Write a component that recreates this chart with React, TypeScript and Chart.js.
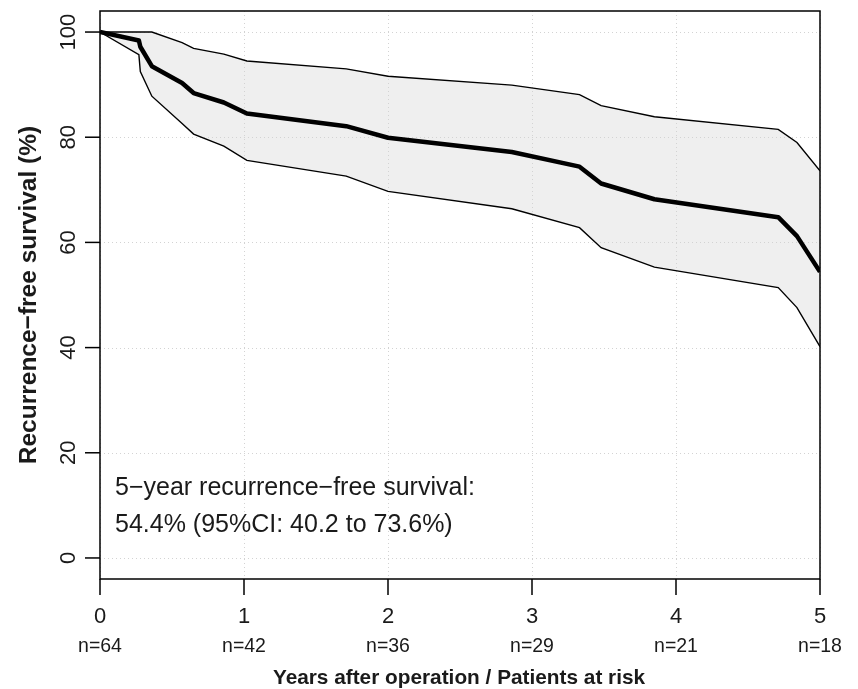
import React, { useEffect, useRef } from "react";
import { Chart, registerables } from "chart.js";

Chart.register(...registerables);

// Years after operation (event times where the curves change slope)
const times = [0, 0.27, 0.28, 0.36, 0.57, 0.65, 0.86, 1.02, 1.71, 2.0, 2.86, 3.33, 3.48, 3.85, 4.71, 4.84, 5.0];
// Recurrence-free survival (%)
const survival = [100, 98.4, 97.2, 93.5, 90.3, 88.4, 86.6, 84.5, 82.1, 79.9, 77.2, 74.4, 71.2, 68.2, 64.8, 61.2, 54.4];
// 95% CI upper bound (%)
const upperCI = [100, 100, 100, 100, 98.0, 96.9, 95.8, 94.5, 93.0, 91.6, 89.9, 88.1, 86.0, 83.9, 81.5, 79.0, 73.6];
// 95% CI lower bound (%)
const lowerCI = [100, 95.7, 92.5, 87.8, 82.6, 80.6, 78.3, 75.6, 72.6, 69.7, 66.4, 62.8, 59.0, 55.3, 51.4, 47.6, 40.2];

const xTicks = [0, 1, 2, 3, 4, 5];
const yTicks = [0, 20, 40, 60, 80, 100];
const atRisk = ["n=64", "n=42", "n=36", "n=29", "n=21", "n=18"];

const xTitle = "Years after operation / Patients at risk";
const yTitle = "Recurrence\u2212free survival (%)";
const noteLines = [
  "5\u2212year recurrence\u2212free survival:",
  "54.4% (95%CI: 40.2 to 73.6%)",
];

const FONT = '"Liberation Sans", Arial, Helvetica, sans-serif';

const toPts = (ys: number[]) => times.map((t, i) => ({ x: t, y: ys[i] }));

export default function App() {
  const ref = useRef<HTMLCanvasElement | null>(null);

  useEffect(() => {
    if (!ref.current) return;

    const rPlot = {
      id: "rStyle",
      beforeDatasetsDraw(chart: any) {
        const { ctx, chartArea: a, scales } = chart;
        const xs = scales.x;
        const ys = scales.y;
        ctx.save();
        ctx.strokeStyle = "#d3d3d3";
        ctx.lineWidth = 1;
        ctx.setLineDash([1, 3]);
        for (const v of xTicks) {
          const px = Math.round(xs.getPixelForValue(v)) + 0.5;
          ctx.beginPath();
          ctx.moveTo(px, a.top);
          ctx.lineTo(px, a.bottom);
          ctx.stroke();
        }
        for (const v of yTicks) {
          const py = Math.round(ys.getPixelForValue(v)) + 0.5;
          ctx.beginPath();
          ctx.moveTo(a.left, py);
          ctx.lineTo(a.right, py);
          ctx.stroke();
        }
        ctx.restore();
      },
      afterDraw(chart: any) {
        const { ctx, chartArea: a, scales } = chart;
        const xs = scales.x;
        const ys = scales.y;
        ctx.save();
        ctx.setLineDash([]);
        ctx.strokeStyle = "#000";
        ctx.lineWidth = 1.5;
        ctx.strokeRect(a.left, a.top, a.right - a.left, a.bottom - a.top);

        ctx.fillStyle = "#1a1a1a";
        // y ticks + labels
        ctx.font = `22px ${FONT}`;
        for (const v of yTicks) {
          const py = ys.getPixelForValue(v);
          ctx.beginPath();
          ctx.moveTo(a.left - 15, py);
          ctx.lineTo(a.left, py);
          ctx.stroke();
          ctx.save();
          ctx.translate(a.left - 25, py);
          ctx.rotate(-Math.PI / 2);
          ctx.textAlign = "center";
          ctx.textBaseline = "alphabetic";
          ctx.fillText(String(v), 0, 0);
          ctx.restore();
        }
        // x ticks + labels + at risk
        xTicks.forEach((v, i) => {
          const px = xs.getPixelForValue(v);
          ctx.beginPath();
          ctx.moveTo(px, a.bottom);
          ctx.lineTo(px, a.bottom + 16);
          ctx.stroke();
          ctx.textAlign = "center";
          ctx.textBaseline = "alphabetic";
          ctx.font = `22px ${FONT}`;
          ctx.fillText(String(v), px, a.bottom + 44);
          ctx.font = `19.5px ${FONT}`;
          ctx.fillText(atRisk[i], px, a.bottom + 73);
        });
        // axis titles
        ctx.font = `bold 20.8px ${FONT}`;
        ctx.textAlign = "center";
        ctx.fillText(xTitle, (a.left + a.right) / 2 - 1, a.bottom + 105);
        ctx.save();
        ctx.translate(36, (a.top + a.bottom) / 2);
        ctx.rotate(-Math.PI / 2);
        ctx.font = `bold 24.5px ${FONT}`;
        ctx.fillText(yTitle, 0, 0);
        ctx.restore();
        // annotation
        ctx.font = `25px ${FONT}`;
        ctx.textAlign = "left";
        ctx.fillText(noteLines[0], a.left + 15, ys.getPixelForValue(12.0));
        ctx.fillText(noteLines[1], a.left + 15, ys.getPixelForValue(5.0));
        ctx.restore();
      },
    };

    const chart = new Chart(ref.current, {
      type: "line",
      data: {
        datasets: [
          {
            label: "Upper 95% CI",
            data: toPts(upperCI),
            borderColor: "#000",
            borderWidth: 1.4,
            backgroundColor: "#efefef",
            fill: "+1",
            pointRadius: 0,
            tension: 0,
            order: 2,
          },
          {
            label: "Lower 95% CI",
            data: toPts(lowerCI),
            borderColor: "#000",
            borderWidth: 1.4,
            fill: false,
            pointRadius: 0,
            tension: 0,
            order: 1,
          },
          {
            label: "Survival",
            data: toPts(survival),
            borderColor: "#000",
            borderWidth: 4.5,
            borderJoinStyle: "round",
            fill: false,
            pointRadius: 0,
            tension: 0,
            order: 0,
          },
        ],
      },
      options: {
        animation: false,
        responsive: false,
        maintainAspectRatio: false,
        layout: { padding: { left: 100, right: 38, top: 11, bottom: 110 } },
        plugins: {
          legend: { display: false },
          tooltip: { enabled: false },
          filler: { drawTime: "beforeDatasetsDraw" },
        },
        scales: {
          x: { type: "linear", min: 0, max: 5, display: false },
          y: { type: "linear", min: -4, max: 104, display: false },
        },
      },
      plugins: [rPlot],
    });
    return () => chart.destroy();
  }, []);

  return (
    <div style={{ position: "fixed", left: 0, top: 0, width: 858, height: 689, background: "#fff" }}>
      <canvas ref={ref} width={858} height={689} style={{ width: 858, height: 689, display: "block" }} />
    </div>
  );
}
